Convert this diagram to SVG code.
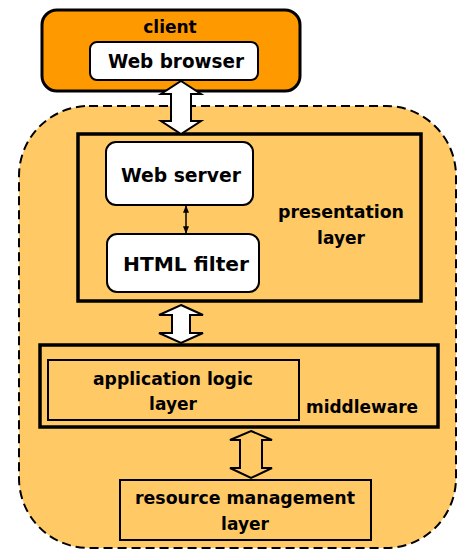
<svg xmlns="http://www.w3.org/2000/svg" width="465" height="556" viewBox="0 0 465 556">
<style>
text{font-family:"DejaVu Sans","Liberation Sans",sans-serif;font-weight:bold;font-size:17px;fill:#000;text-anchor:middle}
.big{font-size:19px}
.inner{fill:#fff;stroke:#000;stroke-width:2}
.box{fill:none;stroke:#000}
.arr{stroke:#000;stroke-width:2;stroke-linejoin:miter}
</style>
<defs>
<marker id="ah" viewBox="0 0 10 10" refX="9" refY="5" markerWidth="5" markerHeight="5" orient="auto-start-reverse"><path d="M0,1 L10,5 L0,9 z" fill="#000"/></marker>
</defs>
<rect width="465" height="556" fill="#fff"/>
<g id="server-side">
<rect x="19" y="106" width="437" height="442" rx="70" fill="#FFC966" stroke="#000" stroke-width="2" stroke-dasharray="9,5"/>
</g>
<g id="client">
<rect x="42" y="10" width="258" height="81" rx="15" fill="#FF9900" stroke="#000" stroke-width="3"/>
<text x="170" y="33">client</text>
</g>
<g id="web-browser">
<rect class="inner" x="90" y="42" width="168" height="38" rx="7"/>
<text class="big" x="176" y="68" textLength="136" lengthAdjust="spacingAndGlyphs">Web browser</text>
</g>
<g id="presentation-layer">
<rect class="box" x="78" y="134" width="343" height="167" stroke-width="3.5"/>
<text x="341" y="218" textLength="126" lengthAdjust="spacingAndGlyphs">presentation</text>
<text x="341" y="244">layer</text>
</g>
<g id="web-server">
<rect class="inner" x="106" y="142" width="147" height="63" rx="10"/>
<text class="big" x="181" y="182" textLength="120" lengthAdjust="spacingAndGlyphs">Web server</text>
</g>
<g id="html-filter">
<rect class="inner" x="107" y="234" width="152" height="58" rx="10"/>
<text class="big" x="186" y="271" textLength="126" lengthAdjust="spacingAndGlyphs">HTML filter</text>
</g>
<g id="middleware">
<rect class="box" x="40" y="345" width="398" height="82" stroke-width="3.5"/>
<text x="362" y="413" textLength="112" lengthAdjust="spacingAndGlyphs">middleware</text>
</g>
<g id="application-logic-layer">
<rect class="box" x="48" y="360" width="251" height="60" stroke-width="2"/>
<text x="173" y="385" textLength="160" lengthAdjust="spacingAndGlyphs">application logic</text>
<text x="173" y="410">layer</text>
</g>
<g id="resource-management-layer">
<rect class="box" x="120" y="480" width="251" height="60" stroke-width="2"/>
<text x="245" y="504" textLength="220" lengthAdjust="spacingAndGlyphs">resource management</text>
<text x="245" y="530">layer</text>
</g>
<g id="connectors">
<polygon class="arr" fill="#fff" points="181,81 201,94 191,94 191,121 201,121 181,134 161,121 171,121 171,94 161,94"/>
<line x1="186" y1="206" x2="186" y2="233" stroke="#000" stroke-width="1.5" marker-start="url(#ah)" marker-end="url(#ah)"/>
<polygon class="arr" fill="#fff" points="181,305 203,315 190,315 190,333 203,333 181,343 159,333 172,333 172,315 159,315"/>
<polygon class="arr" fill="none" points="251,431 272,440 262,440 262,468 272,468 251,478 230,468 240,468 240,440 230,440"/>
</g>
</svg>
